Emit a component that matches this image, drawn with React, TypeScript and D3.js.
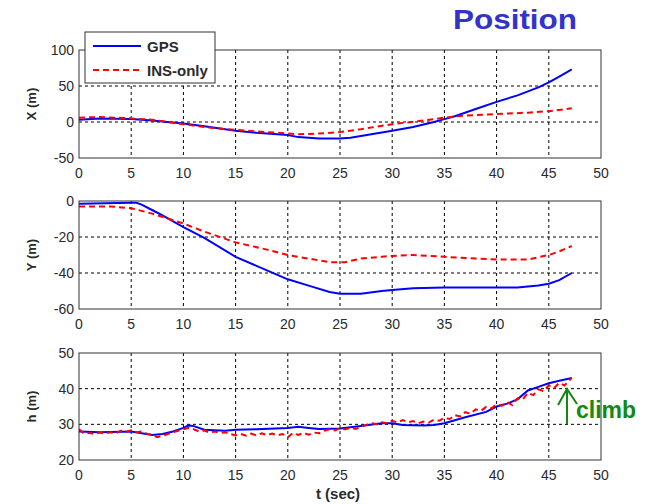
import React, { useEffect, useRef } from "react";
import * as d3 from "d3";

// time axis ticks and per-panel y ticks
const tTicks = [0, 5, 10, 15, 20, 25, 30, 35, 40, 45, 50];
const xTicks = [-50, 0, 50, 100];
const yTicks = [-60, -40, -20, 0];
const hTicks = [20, 30, 40, 50];

// X (m)
const tX = [0, 2, 5, 7, 10, 12, 15, 17, 20, 21, 23, 25, 26, 28, 30, 32, 34, 35, 36, 38, 40, 42, 44, 45, 46, 47.2];
const gpsX = [3, 5, 4, 2, -2, -6, -12, -15, -18, -21, -23, -23, -22, -17, -12, -7, 0, 4, 8, 18, 28, 37, 48, 55, 63, 73];
const tXi = [0, 2, 5, 7, 10, 12, 15, 18, 20, 21, 23, 25, 27, 30, 33, 35, 37, 40, 43, 45, 47.2];
const insX = [6, 7, 5, 3, -3, -7, -11, -14, -16, -17, -16, -14, -10, -3, 2, 6, 9, 11, 13, 15, 19];

// Y (m)
const tY = [0, 5, 5.5, 6, 7, 8, 10, 12, 15, 17, 18, 20, 22, 24, 25, 27, 29, 30, 32, 35, 40, 42, 44, 45, 46, 47.2];
const gpsY = [-1.5, -1, -1, -2, -5, -8, -14.5, -20.5, -31, -36, -38.5, -43.5, -47, -50.5, -51.5, -51.5, -50, -49.5, -48.5, -48, -48, -48, -47, -46, -44, -40];
const tYi = [0, 3, 5, 7, 10, 12, 15, 18, 20, 22, 24, 25.5, 27, 29, 30, 32, 35, 38, 40, 43, 45, 46, 47.2];
const insY = [-3, -3, -4, -7, -12.5, -17, -23, -27, -30, -32, -34, -34, -32, -31, -30.5, -30, -31, -32, -32.5, -32.5, -30, -28, -25];

// h (m)
const tH = [0, 2, 5, 7, 8, 9, 10, 10.5, 11, 12, 14, 15, 17, 20, 21, 22, 23, 25, 27, 29, 30, 31, 33, 34, 35, 37, 39, 40, 41, 42, 43, 44, 45, 46, 47.2];
const gpsH = [28, 27.8, 28, 27, 27.3, 28, 29, 29.7, 29.5, 28.5, 28.2, 28.5, 28.6, 29, 29.3, 29, 28.7, 28.8, 29.5, 30.3, 30.3, 29.8, 29.7, 29.8, 30.3, 32, 33.5, 35, 35.8, 37, 39.5, 40.5, 41.5, 42.2, 43];
const tHi = [0, 0.5, 1, 1.5, 2, 2.5, 3, 3.5, 4, 4.5, 5, 5.5, 6, 6.5, 7, 7.5, 8, 8.5, 9, 9.5, 10, 10.5, 11, 11.5, 12, 12.5, 13, 13.5, 14, 14.5, 15, 15.5, 16, 16.5, 17, 17.5, 18, 18.5, 19, 19.5, 20, 20.5, 21, 21.5, 22, 22.5, 23, 23.5, 24, 24.5, 25, 25.5, 26, 26.5, 27, 27.5, 28, 28.5, 29, 29.5, 30, 30.5, 31, 31.5, 32, 32.5, 33, 33.5, 34, 34.5, 35, 35.5, 36, 36.5, 37, 37.5, 38, 38.5, 39, 39.5, 40, 40.5, 41, 41.5, 42, 42.5, 43, 43.5, 44, 44.5, 45, 45.5, 46, 46.5, 47, 47.2];
const insH = [28.6, 27.4, 27.6, 27.3, 27.7, 27.4, 27.8, 27.5, 28.2, 27.9, 28.3, 27.8, 28.0, 27.4, 27.0, 26.4, 26.8, 27.3, 27.8, 28.2, 28.6, 29.0, 28.6, 28.0, 28.3, 27.7, 28.0, 27.6, 27.8, 27.3, 26.9, 27.3, 26.8, 27.4, 26.9, 27.5, 27.0, 27.4, 26.9, 27.3, 26.4, 27.6, 27.0, 27.6, 27.1, 27.7, 27.5, 28.2, 28.6, 28.3, 28.9, 28.6, 29.0, 28.7, 29.4, 29.8, 30.3, 30.0, 30.6, 30.3, 31.0, 30.5, 31.2, 30.6, 30.9, 30.3, 30.8, 30.5, 31.3, 31.0, 31.8, 31.5, 32.6, 32.2, 33.4, 33.0, 34.2, 33.8, 34.9, 34.5, 35.6, 35.2, 36.2, 35.4, 37.3, 37.0, 38.8, 38.2, 39.8, 39.3, 40.9, 40.2, 41.6, 40.9, 42.4, 43.1];

const W = 652;
const H = 504;
const left = 79;
const right = 601;
const font = "'Liberation Sans', Arial, sans-serif";
const ink = "#2a2a2a";

const panels = [
  { label: "X (m)", top: 50, bottom: 158, domain: [-50, 100], ticks: xTicks, tg: tX, g: gpsX, ti: tXi, ins: insX },
  { label: "Y (m)", top: 201, bottom: 309, domain: [-60, 0], ticks: yTicks, tg: tY, g: gpsY, ti: tYi, ins: insY },
  { label: "h (m)", top: 353, bottom: 460, domain: [20, 50], ticks: hTicks, tg: tH, g: gpsH, ti: tHi, ins: insH },
];

export default function App() {
  const svgRef = useRef<SVGSVGElement>(null);

  useEffect(() => {
    const svg = d3.select(svgRef.current);
    svg.selectAll("*").remove();
    svg.append("rect").attr("width", W).attr("height", H).attr("fill", "#fff");

    const x = d3.scaleLinear().domain([0, 50]).range([left, right]);

    panels.forEach((p) => {
      const y = d3.scaleLinear().domain(p.domain).range([p.bottom, p.top]);
      const g = svg.append("g");

      // grid
      g.selectAll(".vg")
        .data(tTicks.slice(1, -1))
        .enter()
        .append("line")
        .attr("x1", (d) => x(d))
        .attr("x2", (d) => x(d))
        .attr("y1", p.top)
        .attr("y2", p.bottom)
        .attr("stroke", "#000")
        .attr("stroke-dasharray", "3,3");
      g.selectAll(".hg")
        .data(p.ticks.slice(1, -1))
        .enter()
        .append("line")
        .attr("x1", left)
        .attr("x2", right)
        .attr("y1", (d) => y(d))
        .attr("y2", (d) => y(d))
        .attr("stroke", "#000")
        .attr("stroke-dasharray", "3,3");

      // lines
      const gpsLine = d3
        .line<number>()
        .x((d, i) => x(p.tg[i]))
        .y((d) => y(d));
      const insLine = d3
        .line<number>()
        .x((d, i) => x(p.ti[i]))
        .y((d) => y(d));
      g.append("path")
        .attr("d", gpsLine(p.g))
        .attr("fill", "none")
        .attr("stroke", "#0000ff")
        .attr("stroke-width", 2);
      g.append("path")
        .attr("d", insLine(p.ins))
        .attr("fill", "none")
        .attr("stroke", "#ff0000")
        .attr("stroke-width", 2)
        .attr("stroke-dasharray", "6,4");

      // box
      g.append("rect")
        .attr("x", left)
        .attr("y", p.top)
        .attr("width", right - left)
        .attr("height", p.bottom - p.top)
        .attr("fill", "none")
        .attr("stroke", "#333")
        .attr("stroke-width", 1);

      // tick labels
      g.selectAll(".yt")
        .data(p.ticks)
        .enter()
        .append("text")
        .attr("x", left - 5)
        .attr("y", (d) => y(d) + 5)
        .attr("text-anchor", "end")
        .attr("font-family", font)
        .attr("font-size", 14)
        .attr("fill", ink)
        .text((d) => d);
      g.selectAll(".xt")
        .data(tTicks)
        .enter()
        .append("text")
        .attr("x", (d) => x(d))
        .attr("y", p.bottom + 20)
        .attr("text-anchor", "middle")
        .attr("font-family", font)
        .attr("font-size", 14)
        .attr("fill", ink)
        .text((d) => d);

      g.append("text")
        .attr("transform", `translate(36,${(p.top + p.bottom) / 2}) rotate(-90)`)
        .attr("text-anchor", "middle")
        .attr("font-family", font)
        .attr("font-size", 13)
        .attr("font-weight", "bold")
        .attr("fill", ink)
        .text(p.label);
    });

    // legend
    const lg = svg.append("g");
    lg.append("rect")
      .attr("x", 85)
      .attr("y", 32)
      .attr("width", 130)
      .attr("height", 51)
      .attr("fill", "#fff")
      .attr("stroke", "#333");
    lg.append("line").attr("x1", 93).attr("x2", 141).attr("y1", 46).attr("y2", 46)
      .attr("stroke", "#0000ff").attr("stroke-width", 2);
    lg.append("line").attr("x1", 93).attr("x2", 141).attr("y1", 70).attr("y2", 70)
      .attr("stroke", "#ff0000").attr("stroke-width", 2).attr("stroke-dasharray", "6,4");
    lg.append("text").attr("x", 147).attr("y", 52).attr("font-family", font)
      .attr("font-size", 15).attr("font-weight", "bold").attr("fill", ink).text("GPS");
    lg.append("text").attr("x", 147).attr("y", 76).attr("font-family", font)
      .attr("font-size", 15).attr("font-weight", "bold").attr("fill", ink).text("INS-only");

    // title
    svg.append("text")
      .attr("x", 453)
      .attr("y", 29)
      .attr("font-family", font)
      .attr("font-size", 28)
      .attr("font-weight", "bold")
      .attr("fill", "#3333cc")
      .attr("textLength", 124)
      .attr("lengthAdjust", "spacingAndGlyphs")
      .text("Position");

    // x label
    svg.append("text")
      .attr("x", 338)
      .attr("y", 499)
      .attr("text-anchor", "middle")
      .attr("font-family", font)
      .attr("font-size", 15)
      .attr("font-weight", "bold")
      .attr("fill", ink)
      .text("t (sec)");

    // climb annotation
    const green = "#108a10";
    svg.append("line").attr("x1", 567).attr("x2", 567).attr("y1", 424).attr("y2", 389)
      .attr("stroke", green).attr("stroke-width", 2);
    svg.append("path").attr("d", "M558,405 L567,389 L577,404")
      .attr("fill", "none").attr("stroke", green).attr("stroke-width", 2);
    svg.append("text")
      .attr("x", 576)
      .attr("y", 418)
      .attr("font-family", font)
      .attr("font-size", 23)
      .attr("font-weight", "bold")
      .attr("fill", green)
      .text("climb");
  }, []);

  return (
    <svg
      ref={svgRef}
      width={W}
      height={H}
      style={{ position: "absolute", left: 0, top: 0 }}
    />
  );
}
